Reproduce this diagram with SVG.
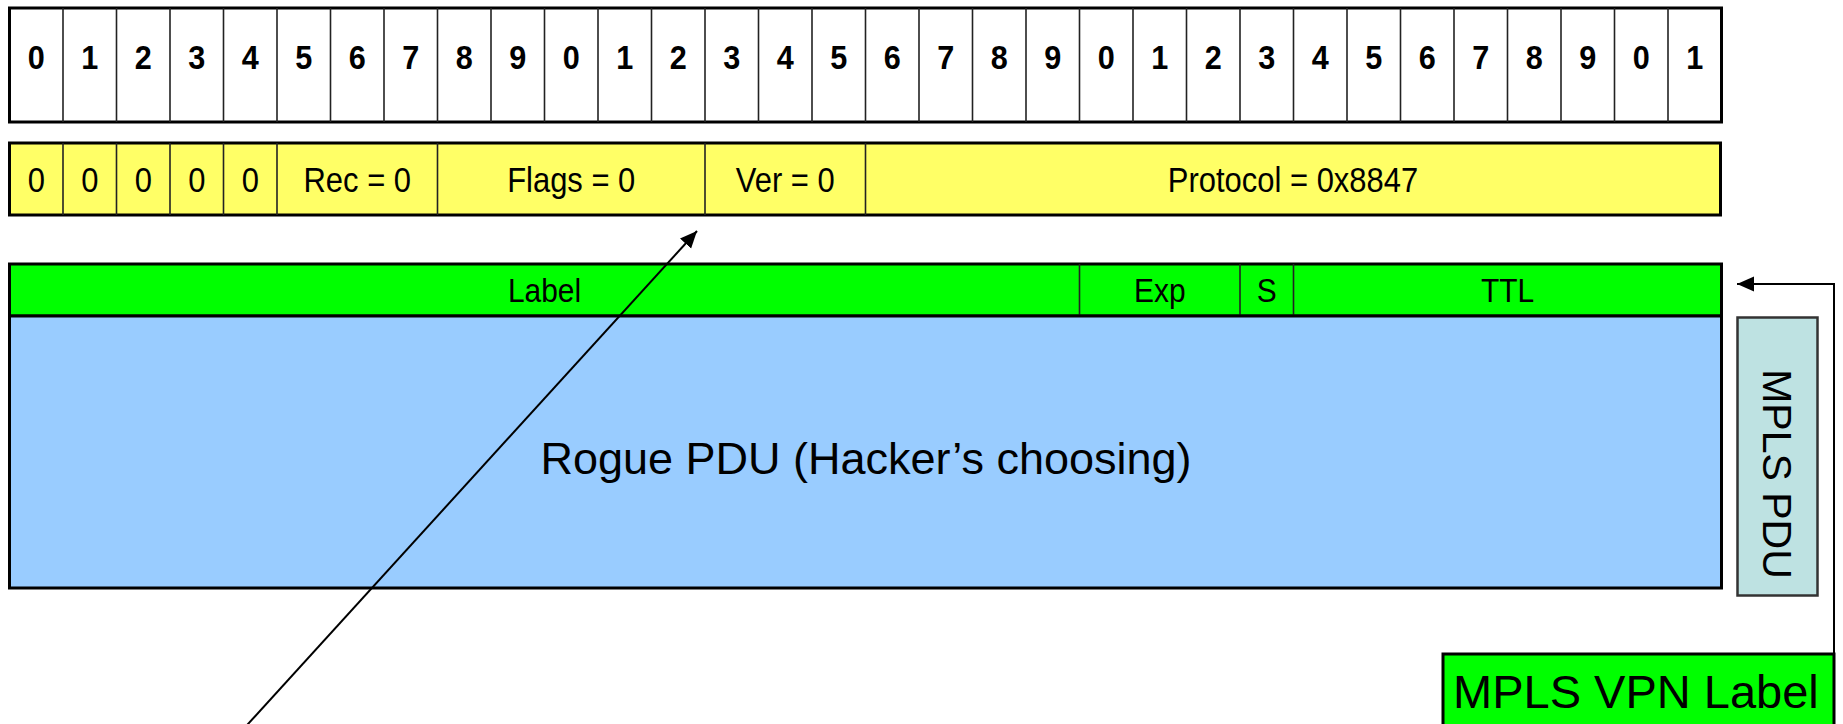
<svg xmlns="http://www.w3.org/2000/svg" width="1843" height="724" viewBox="0 0 1843 724">
  <style>
    text { font-family: "Liberation Sans", Arial, sans-serif; fill: #000; text-anchor: middle; }
    .bit { font-size: 34px; font-weight: bold; }
    .fld { font-size: 36px; }
    .lbl { font-size: 34px; }
    .big { font-size: 45px; }
    .frame { stroke: #000; stroke-width: 3; }
    .div { stroke: #222; stroke-width: 1.6; fill: none; }
    .conn { stroke: #000; stroke-width: 2; fill: none; }
  </style>
  <defs>
    <marker id="arrow" markerUnits="userSpaceOnUse" markerWidth="20" markerHeight="16" refX="17" refY="7.5" orient="auto">
      <path d="M0,0 L17,7.5 L0,15 Z" fill="#000"/>
    </marker>
  </defs>

  <!-- 32-bit ruler -->
  <g id="bit-ruler">
    <rect x="9.5" y="8" width="1712" height="114" fill="#fff" class="frame"/>
    <path class="div" d="M63,8V122 M116.5,8V122 M170,8V122 M223.5,8V122 M277,8V122 M330.5,8V122 M384,8V122 M437.5,8V122 M491,8V122 M544.5,8V122 M598,8V122 M651.5,8V122 M705,8V122 M758.5,8V122 M812,8V122 M865.5,8V122 M919,8V122 M972.5,8V122 M1026,8V122 M1079.5,8V122 M1133,8V122 M1186.5,8V122 M1240,8V122 M1293.5,8V122 M1347,8V122 M1400.5,8V122 M1454,8V122 M1507.5,8V122 M1561,8V122 M1614.5,8V122 M1668,8V122"/>
    <g>
      <text class="bit" transform="translate(36.25,69) scale(0.9,1)">0</text>
      <text class="bit" transform="translate(89.75,69) scale(0.9,1)">1</text>
      <text class="bit" transform="translate(143.25,69) scale(0.9,1)">2</text>
      <text class="bit" transform="translate(196.75,69) scale(0.9,1)">3</text>
      <text class="bit" transform="translate(250.25,69) scale(0.9,1)">4</text>
      <text class="bit" transform="translate(303.75,69) scale(0.9,1)">5</text>
      <text class="bit" transform="translate(357.25,69) scale(0.9,1)">6</text>
      <text class="bit" transform="translate(410.75,69) scale(0.9,1)">7</text>
      <text class="bit" transform="translate(464.25,69) scale(0.9,1)">8</text>
      <text class="bit" transform="translate(517.75,69) scale(0.9,1)">9</text>
      <text class="bit" transform="translate(571.25,69) scale(0.9,1)">0</text>
      <text class="bit" transform="translate(624.75,69) scale(0.9,1)">1</text>
      <text class="bit" transform="translate(678.25,69) scale(0.9,1)">2</text>
      <text class="bit" transform="translate(731.75,69) scale(0.9,1)">3</text>
      <text class="bit" transform="translate(785.25,69) scale(0.9,1)">4</text>
      <text class="bit" transform="translate(838.75,69) scale(0.9,1)">5</text>
      <text class="bit" transform="translate(892.25,69) scale(0.9,1)">6</text>
      <text class="bit" transform="translate(945.75,69) scale(0.9,1)">7</text>
      <text class="bit" transform="translate(999.25,69) scale(0.9,1)">8</text>
      <text class="bit" transform="translate(1052.75,69) scale(0.9,1)">9</text>
      <text class="bit" transform="translate(1106.25,69) scale(0.9,1)">0</text>
      <text class="bit" transform="translate(1159.75,69) scale(0.9,1)">1</text>
      <text class="bit" transform="translate(1213.25,69) scale(0.9,1)">2</text>
      <text class="bit" transform="translate(1266.75,69) scale(0.9,1)">3</text>
      <text class="bit" transform="translate(1320.25,69) scale(0.9,1)">4</text>
      <text class="bit" transform="translate(1373.75,69) scale(0.9,1)">5</text>
      <text class="bit" transform="translate(1427.25,69) scale(0.9,1)">6</text>
      <text class="bit" transform="translate(1480.75,69) scale(0.9,1)">7</text>
      <text class="bit" transform="translate(1534.25,69) scale(0.9,1)">8</text>
      <text class="bit" transform="translate(1587.75,69) scale(0.9,1)">9</text>
      <text class="bit" transform="translate(1641.25,69) scale(0.9,1)">0</text>
      <text class="bit" transform="translate(1694.75,69) scale(0.9,1)">1</text>
    </g>
  </g>

  <!-- GRE header -->
  <g id="gre-header">
    <rect x="9.5" y="143" width="1711" height="72" fill="#ffff66" class="frame"/>
    <path class="div" d="M63,143V215 M116.5,143V215 M170,143V215 M223.5,143V215 M277,143V215 M437.5,143V215 M705,143V215 M865.5,143V215"/>
    <text class="fld" transform="translate(36.25,192) scale(0.86,1)">0</text>
    <text class="fld" transform="translate(89.75,192) scale(0.86,1)">0</text>
    <text class="fld" transform="translate(143.25,192) scale(0.86,1)">0</text>
    <text class="fld" transform="translate(196.75,192) scale(0.86,1)">0</text>
    <text class="fld" transform="translate(250.25,192) scale(0.86,1)">0</text>
    <text class="fld" transform="translate(357.25,192) scale(0.86,1)">Rec = 0</text>
    <text class="fld" transform="translate(571.25,192) scale(0.86,1)">Flags = 0</text>
    <text class="fld" transform="translate(785.25,192) scale(0.86,1)">Ver = 0</text>
    <text class="fld" transform="translate(1293,192) scale(0.86,1)">Protocol = 0x8847</text>
  </g>

  <!-- MPLS label stack entry -->
  <g id="mpls-label">
    <rect x="9.5" y="264" width="1712" height="52" fill="#00ff00" class="frame"/>
    <path class="div" d="M1079.5,264V316 M1240,264V316 M1293.5,264V316"/>
    <text class="lbl" transform="translate(544.5,302) scale(0.88,1)">Label</text>
    <text class="lbl" transform="translate(1159.75,302) scale(0.88,1)">Exp</text>
    <text class="lbl" transform="translate(1266.75,302) scale(0.88,1)">S</text>
    <text class="lbl" transform="translate(1507.5,302) scale(0.88,1)">TTL</text>
  </g>

  <!-- payload -->
  <g id="rogue-pdu">
    <rect x="9.5" y="316" width="1712" height="272" fill="#99ccff" class="frame"/>
    <text class="big" x="866" y="474">Rogue PDU (Hacker’s choosing)</text>
  </g>

  <!-- side caption -->
  <g id="mpls-pdu">
    <rect x="1737.5" y="317.5" width="80" height="278" fill="#bee2e2" stroke="#333" stroke-width="2.5"/>
    <text font-size="41" transform="translate(1763,474) rotate(90)">MPLS PDU</text>
  </g>

  <g id="mpls-vpn-label">
    <rect x="1443" y="654" width="391" height="80" fill="#00ff00" stroke="#000" stroke-width="3"/>
    <text x="1453" y="708" font-size="47" style="text-anchor:start">MPLS VPN Label</text>
  </g>

  <!-- connectors -->
  <g id="connectors">
    <path class="conn" d="M238,735 L697,231" stroke-width="1.8" marker-end="url(#arrow)"/>
    <path class="conn" d="M1834,654 V284 H1737" marker-end="url(#arrow)"/>
  </g>
</svg>
